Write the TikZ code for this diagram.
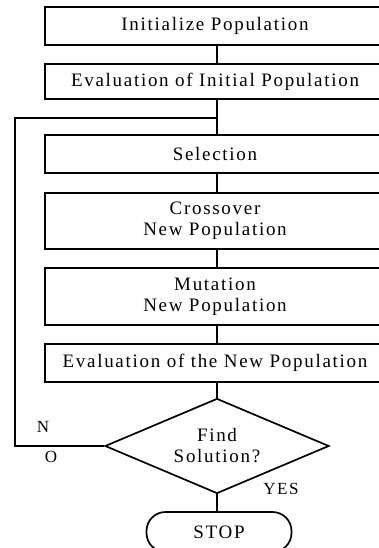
\documentclass[tikz,border=0pt]{standalone}
\usepackage{fontspec}
\setmainfont{Liberation Serif}
\newfontfamily\chartfont[LetterSpace=9]{Liberation Serif}
\usetikzlibrary{shapes.geometric}

\begin{document}
\begin{tikzpicture}[x=1pt, y=-1pt, line width=1.7pt,
	stepbox/.style={draw, rectangle, minimum width=340pt, inner sep=0pt, align=center, font=\chartfont\fontsize{19}{21}\selectfont},
	decision/.style={draw, diamond, aspect=2.36, minimum width=224pt, minimum height=95pt, inner sep=0pt, align=center, font=\chartfont\fontsize{19}{21}\selectfont},
	stopbox/.style={draw, rectangle, rounded corners=19pt, minimum width=145pt, minimum height=40pt, font=\chartfont\fontsize{19}{21}\selectfont},
	tag/.style={font=\chartfont\fontsize{17}{19}\selectfont}]
			%%%%% START %%%%%
			
			\useasboundingbox (0, 0) rectangle (379, 548);
			\clip (0, 0) rectangle (379, 548);
			
			\node[stepbox, minimum height=38pt] (init) at (215, 26) {Initialize Population};
			\node[stepbox, minimum height=35pt] (evalinit) at (215, 81.5) {Evaluation of Initial Population};
			\node[stepbox, minimum height=38pt] (select) at (215, 154) {Selection};
			\node[stepbox, minimum height=56pt] (cross) at (215, 221) {Crossover\\New Population};
			\node[stepbox, minimum height=57pt] (mutate) at (215, 296.5) {Mutation\\New Population};
			\node[stepbox, minimum height=38pt] (evalnew) at (215, 363) {Evaluation of the New Population};
			
			\node[decision] (find) at (217, 446) {Find\\Solution?};
			\node[stopbox] (stop) at (219, 532) {STOP};
			
			\coordinate (join) at (217, 118);
			\coordinate (loopbot) at (15, 446);
			\coordinate (looptop) at (15, 118);
			
			\draw (init.south -| join) -- (evalinit.north -| join);
			\draw (evalinit.south -| join) -- (select.north -| join);
			\draw (select.south -| join) -- (cross.north -| join);
			\draw (cross.south -| join) -- (mutate.north -| join);
			\draw (mutate.south -| join) -- (evalnew.north -| join);
			\draw (evalnew.south -| join) -- (find.north);
			\draw (find.south) -- (stop.north -| find.south);
			\draw (find.west) -- (loopbot) -- (looptop) -- (join);
			
			\node[tag] (no1) at (43, 427) {N};
			\node[tag] (no2) at (51, 457) {O};
			\node[tag] (yes) at (281, 489) {YES};
			
			%%%%% END %%%%%
\end{tikzpicture}
\end{document}
